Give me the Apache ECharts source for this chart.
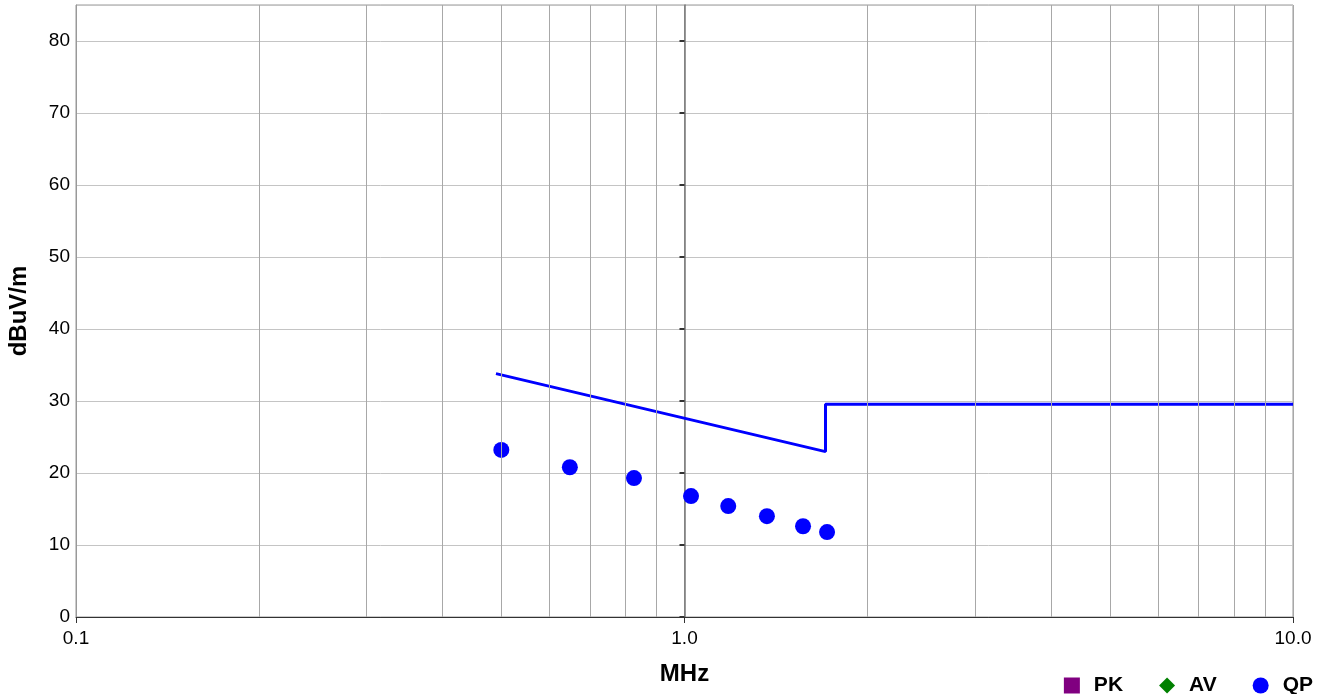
<!DOCTYPE html>
<html>
<head>
<meta charset="utf-8">
<script src="https://cdn.jsdelivr.net/npm/echarts@6/dist/echarts.min.js"></script>
<style>html,body{margin:0;padding:0;background:#fff}#c{width:1323px;height:694px}</style>
</head>
<body>
<div id="c"></div>
<script>
const qpFreq = [0.50, 0.648, 0.826, 1.025, 1.18, 1.366, 1.566, 1.715];
const qpLevel = [23.2, 20.8, 19.3, 16.8, 15.4, 14.0, 12.6, 11.8];
const limitFreq = [0.49, 1.705, 1.705, 10.0];
const limitLevel = [33.8, 22.97, 29.54, 29.54];
const minorGridFreq = [0.2,0.3,0.4,0.5,0.6,0.7,0.8,0.9,2,3,4,5,6,7,8,9];
const yTicks = [0,10,20,30,40,50,60,70,80];
const legendNames = ['PK', 'AV', 'QP'];

const chart = echarts.init(document.getElementById('c'), null, {renderer: 'canvas'});
const font = '"Liberation Sans", Arial, sans-serif';
chart.setOption({
  animation: false,
  textStyle: {fontFamily: font},
  grid: {left: 76, right: 30, top: 5, bottom: 77, containLabel: false, outerBoundsMode: 'none',
         show: true, borderColor: '#999', borderWidth: 1, backgroundColor: '#fff'},
  legend: {
    data: legendNames.map(n => ({name: n, itemStyle: {opacity: 1}})),
    right: 10, top: 675, itemWidth: 16, itemHeight: 16, itemGap: 36, padding: 0,
    textStyle: {fontSize: 21, fontWeight: 'bold', color: '#000', fontFamily: font, padding: [0, 0, 0, 9]},
    selectedMode: false
  },
  xAxis: {
    type: 'log', logBase: 10, min: 0.1, max: 10,
    name: 'MHz', nameLocation: 'middle', nameGap: 45,
    nameTextStyle: {fontSize: 24, fontWeight: 'bold', color: '#000', fontFamily: font},
    axisLine: {lineStyle: {color: '#333', width: 1}},
    axisTick: {show: true, length: 6, lineStyle: {color: '#333'}},
    axisLabel: {fontSize: 19, color: '#000', margin: 12, formatter: v => Number(v).toFixed(1)},
    splitLine: {show: true, lineStyle: {color: '#a8a8a8', width: 1}},
    minorTick: {show: false}, minorSplitLine: {show: false}
  },
  yAxis: [{
    type: 'value', min: 0, max: 85, interval: 10,
    name: 'dBuV/m', nameLocation: 'middle', nameGap: 45,
    nameTextStyle: {fontSize: 24, fontWeight: 'bold', color: '#000', fontFamily: font},
    axisLine: {show: true, lineStyle: {color: '#999'}},
    axisTick: {show: false},
    axisLabel: {fontSize: 19, color: '#000', margin: 6, showMaxLabel: false},
    splitLine: {show: true, lineStyle: {color: '#c4c4c4', width: 1}}
  }, {
    type: 'value', min: 0, max: 85, interval: 10, position: 'left', offset: -608.5,
    axisLine: {show: true, lineStyle: {color: '#777', width: 1.5}},
    axisTick: {show: true, length: 5, customValues: yTicks, lineStyle: {color: '#333', width: 2}},
    axisLabel: {show: false}, splitLine: {show: false}
  }],
  series: [
    {
      name: 'grid', type: 'line', data: [], silent: true, z: 1,
      markLine: {
        silent: true, symbol: ['none','none'], label: {show: false},
        lineStyle: {color: '#a8a8a8', width: 1, type: 'solid'},
        data: minorGridFreq.map(f => ({xAxis: f}))
      }
    },
    {name: 'PK', type: 'scatter', data: [], symbol: 'rect', itemStyle: {color: '#800080', opacity: 1}},
    {name: 'AV', type: 'scatter', data: [], symbol: 'diamond', itemStyle: {color: '#008000', opacity: 1}},
    {
      name: 'Limit', type: 'line', data: limitFreq.map((f, i) => [f, limitLevel[i]]),
      showSymbol: false, symbol: 'none', lineStyle: {color: '#0000ff', width: 3}, z: 3
    },
    {
      name: 'QP', type: 'scatter', data: qpFreq.map((f, i) => [f, qpLevel[i]]),
      symbol: 'circle', symbolSize: 16, itemStyle: {color: '#0000ff', opacity: 1}, z: 4
    }
  ]
});
</script>
</body>
</html>
